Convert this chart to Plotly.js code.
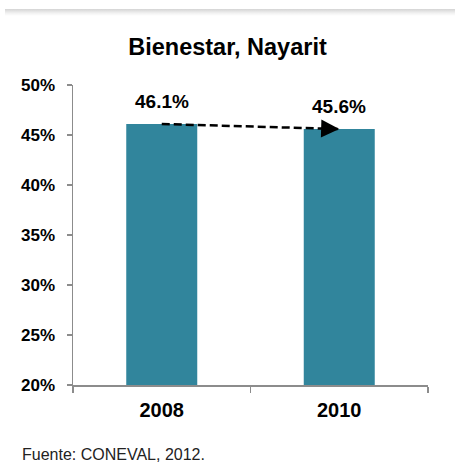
<!DOCTYPE html>
<html>
<head>
<meta charset="utf-8">
<script src="https://cdn.plot.ly/plotly-3.0.1.min.js"></script>
<style>
  html, body { margin: 0; padding: 0; background: #fff; }
  #chart { width: 455px; height: 463px; position: relative; }
  #shade { position: absolute; left: 5px; right: 0; top: 9px; height: 7px;
           background: linear-gradient(to bottom, #d4d4d4, #f2f2f2 60%, #ffffff);
           z-index: 5; pointer-events: none; }
</style>
</head>
<body>
<div id="shade"></div>
<div id="chart"></div>
<script>
// ---- data ----
const years = ['2008', '2010'];
const bienestar = [46.1, 45.6];
const chartTitle = 'Bienestar, Nayarit';
const sourceNote = 'Fuente: CONEVAL, 2012.';
const yTickStep = 5;
const yMin = 20, yMax = 50;

const FONT = 'Liberation Sans, Arial, sans-serif';
const teal = '#31859C';
const axisGray = '#8c8c8c';

const bars = {
  type: 'bar', x: years, y: bienestar,
  marker: { color: teal }, hoverinfo: 'skip'
};
const trend = {
  type: 'scatter', mode: 'lines', x: years, y: bienestar,
  line: { color: '#000', width: 2.5, dash: '8px,4px' }, hoverinfo: 'skip'
};

// category axis: annotations use category index positions
const labelAnns = years.map((yr, i) => ({
  x: i, y: bienestar[i], text: bienestar[i].toFixed(1) + '%',
  showarrow: false, yanchor: 'bottom', yshift: 10,
  font: { family: FONT, size: 19, weight: 700, color: '#000' }
}));

const arrowAnn = {
  x: years.length - 1, y: bienestar[bienestar.length - 1], text: '', showarrow: true,
  ax: -16, ay: -0.45, arrowhead: 2, arrowsize: 1.45, arrowwidth: 2.5,
  arrowcolor: '#000', standoff: 0
};

const noteAnn = {
  xref: 'paper', yref: 'paper', x: -0.149, y: -0.23,
  xanchor: 'left', yanchor: 'middle', showarrow: false,
  text: sourceNote, font: { family: FONT, size: 16, color: '#222' }
};

const layout = {
  width: 455, height: 463,
  margin: { l: 73, r: 27, t: 85, b: 78 },
  paper_bgcolor: '#fff', plot_bgcolor: '#fff',
  showlegend: false, bargap: 0.6,
  font: { family: FONT, color: '#000' },
  title: {
    text: chartTitle, xref: 'container', x: 0.5, xanchor: 'center',
    yref: 'container', y: 0.9, yanchor: 'middle',
    font: { family: FONT, size: 23.5, weight: 700, color: '#000' }
  },
  xaxis: {
    type: 'category', range: [-0.5, 1.5], tickson: 'boundaries',
    ticks: 'outside', ticklen: 6, tickcolor: axisGray, tickwidth: 1.5,
    showline: true, linecolor: axisGray, linewidth: 1.5,
    showgrid: false, ticklabelstandoff: 6,
    tickfont: { family: FONT, size: 20, weight: 700, color: '#000' }
  },
  yaxis: {
    range: [yMin, yMax], dtick: yTickStep, tick0: yMin, ticksuffix: '%',
    ticks: 'outside', ticklen: 5, tickcolor: axisGray, tickwidth: 1.5,
    showline: true, linecolor: axisGray, linewidth: 1.5,
    showgrid: false, zeroline: false, ticklabelstandoff: 8,
    tickfont: { family: FONT, size: 17, weight: 700, color: '#000' }
  },
  annotations: [...labelAnns, arrowAnn, noteAnn]
};

Plotly.newPlot('chart', [bars, trend], layout, { displayModeBar: false, staticPlot: true });
</script>
</body>
</html>
